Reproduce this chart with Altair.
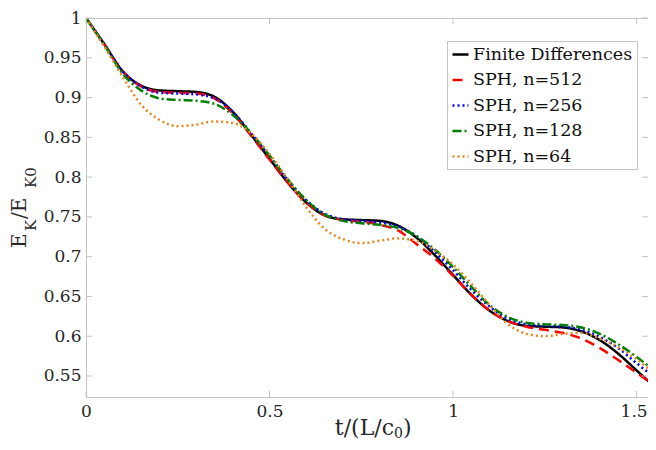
import altair as alt
import pandas as pd

# ---- data ----
t = [0.0, 0.05, 0.1, 0.15, 0.2, 0.25, 0.3, 0.35, 0.4, 0.45, 0.5, 0.55, 0.6, 0.65,
     0.7, 0.75, 0.8, 0.85, 0.9, 0.95, 1.0, 1.05, 1.1, 1.15, 1.2, 1.25, 1.3, 1.35,
     1.4, 1.45, 1.5, 1.5527]

fd = [1.0, 0.967, 0.933, 0.915, 0.909, 0.908, 0.907, 0.901, 0.882, 0.853, 0.823,
      0.793, 0.768, 0.752, 0.747, 0.746, 0.745, 0.739, 0.724, 0.702, 0.677, 0.652,
      0.632, 0.619, 0.613, 0.612, 0.611, 0.606, 0.595, 0.578, 0.557, 0.535]

sph512 = [1.0, 0.967, 0.933, 0.914, 0.907, 0.906, 0.905, 0.899, 0.880, 0.852, 0.822,
          0.793, 0.768, 0.752, 0.746, 0.744, 0.740, 0.733, 0.716, 0.698, 0.676, 0.652,
          0.632, 0.619, 0.612, 0.608, 0.604, 0.597, 0.585, 0.570, 0.554, 0.537]

sph256 = [1.0, 0.967, 0.933, 0.914, 0.906, 0.905, 0.904, 0.899, 0.882, 0.855, 0.826,
          0.796, 0.771, 0.754, 0.747, 0.745, 0.743, 0.738, 0.726, 0.706, 0.683, 0.658,
          0.637, 0.622, 0.615, 0.613, 0.612, 0.608, 0.599, 0.585, 0.566, 0.547]

sph128 = [1.0, 0.966, 0.930, 0.909, 0.899, 0.897, 0.896, 0.892, 0.878, 0.855, 0.827,
          0.797, 0.771, 0.753, 0.745, 0.742, 0.740, 0.736, 0.726, 0.709, 0.687, 0.662,
          0.639, 0.624, 0.617, 0.615, 0.614, 0.611, 0.603, 0.590, 0.574, 0.555]

sph64 = [1.0, 0.964, 0.926, 0.891, 0.872, 0.864, 0.866, 0.870, 0.868, 0.855, 0.829,
         0.797, 0.762, 0.735, 0.722, 0.717, 0.720, 0.723, 0.720, 0.708, 0.690, 0.666,
         0.639, 0.615, 0.603, 0.600, 0.603, 0.604, 0.597, 0.586, 0.571, 0.551]

series_names = ["Finite Differences", "SPH, n=512", "SPH, n=256", "SPH, n=128", "SPH, n=64"]
series_values = [fd, sph512, sph256, sph128, sph64]
series_colors = ["#000000", "#ff0000", "#0000ff", "#008000", "#e8871e"]
series_dashes = [[1, 0], [10, 6], [2, 3], [9, 3, 2, 3], [2, 3]]

x_ticks = [0, 0.5, 1, 1.5]
y_ticks = [0.55, 0.6, 0.65, 0.7, 0.75, 0.8, 0.85, 0.9, 0.95, 1.0]
x_domain = [0, 1.531]
y_domain = [0.5236, 1.0]

x_title_parts = ["t/(L/c", "0", ")"]
y_title_parts = ["E", "K", "/E", "K0"]

FONT = "DejaVu Serif"
AXIS_GREY = "#c4c4c4"
TEXT = "#262626"
W, H = 562, 379

rows = []
for name, vals in zip(series_names, series_values):
    for i, (tt, v) in enumerate(zip(t, vals)):
        rows.append({"t": tt, "E": v, "series": name, "order": i})
df = pd.DataFrame(rows)

xs = alt.Scale(domain=x_domain, nice=False, zero=False)
ys = alt.Scale(domain=y_domain, nice=False, zero=False)

lines = alt.Chart(df).mark_line(strokeWidth=2.5, clip=True, interpolate="monotone").encode(
    x=alt.X("t:Q", scale=xs, axis=alt.Axis(values=x_ticks, format="~g", title=None,
                                          ticks=False, grid=False, labelPadding=6,
                                          labelFlush=False,
                                          labelOffset={"condition": {"test": "datum.value == 1.5", "value": -3}, "value": 0},
                                          domainColor=AXIS_GREY, labelColor=TEXT,
                                          labelFont=FONT, labelFontSize=17)),
    y=alt.Y("E:Q", scale=ys, axis=alt.Axis(values=y_ticks, format="~g", title=None,
                                          ticks=False, grid=False, labelPadding=5,
                                          domainColor=AXIS_GREY, labelColor=TEXT,
                                          labelFont=FONT, labelFontSize=17)),
    color=alt.Color("series:N", scale=alt.Scale(domain=series_names, range=series_colors),
                    legend=alt.Legend(title=None)),
    strokeDash=alt.StrokeDash("series:N", scale=alt.Scale(domain=series_names, range=series_dashes),
                              legend=alt.Legend(title=None)),
    order="order:Q",
)

xt = pd.DataFrame({"v": x_ticks})
yt = pd.DataFrame({"v": y_ticks})
tick_bottom = alt.Chart(xt).mark_rule(color=AXIS_GREY, strokeWidth=1).encode(
    x=alt.X("v:Q", scale=xs), y=alt.value(H), y2=alt.value(H - 6))
tick_top = alt.Chart(xt).mark_rule(color=AXIS_GREY, strokeWidth=1).encode(
    x=alt.X("v:Q", scale=xs), y=alt.value(0), y2=alt.value(6))
tick_left = alt.Chart(yt).mark_rule(color=AXIS_GREY, strokeWidth=1).encode(
    y=alt.Y("v:Q", scale=ys), x=alt.value(0), x2=alt.value(6))
tick_right = alt.Chart(yt).mark_rule(color=AXIS_GREY, strokeWidth=1).encode(
    y=alt.Y("v:Q", scale=ys), x=alt.value(W), x2=alt.value(W - 6))

one = pd.DataFrame({"a": [0]})

def txt(s, x, y, size, align="left", angle=0, baseline="alphabetic"):
    return alt.Chart(one).mark_text(text=s, font=FONT, fontSize=size, color=TEXT,
                                    align=align, baseline=baseline, angle=angle).encode(
        x=alt.value(x), y=alt.value(y))

titles = [
    txt(x_title_parts[0], 308, 417, 22, align="right"),
    txt(x_title_parts[1], 308, 420, 14),
    txt(x_title_parts[2], 317, 417, 22),
    txt(y_title_parts[0], -60, 230, 20, angle=270),
    txt(y_title_parts[1], -50, 213, 15, angle=270),
    txt(y_title_parts[2], -60, 201, 20, angle=270),
    txt(y_title_parts[3], -50, 170, 15, angle=270),
]

chart = alt.layer(lines, tick_bottom, tick_top, tick_left, tick_right, *titles).properties(
    width=W, height=H,
    autosize=alt.AutoSizeParams(type="none"),
    padding={"left": 78, "top": 10, "right": 0, "bottom": 45},
).configure_view(stroke=AXIS_GREY, strokeWidth=1).configure_legend(
    orient="none", legendX=361, legendY=23, padding=4, fillColor="white",
    strokeColor=AXIS_GREY, labelFont=FONT, labelFontSize=17.5, labelColor="#111111",
    symbolType="stroke", symbolSize=256, symbolStrokeWidth=2.5, labelOffset=3,
    rowPadding=7.5, cornerRadius=0, labelLimit=400,
)

chart.save("out.html", embed_options={"renderer": "svg", "actions": False})
